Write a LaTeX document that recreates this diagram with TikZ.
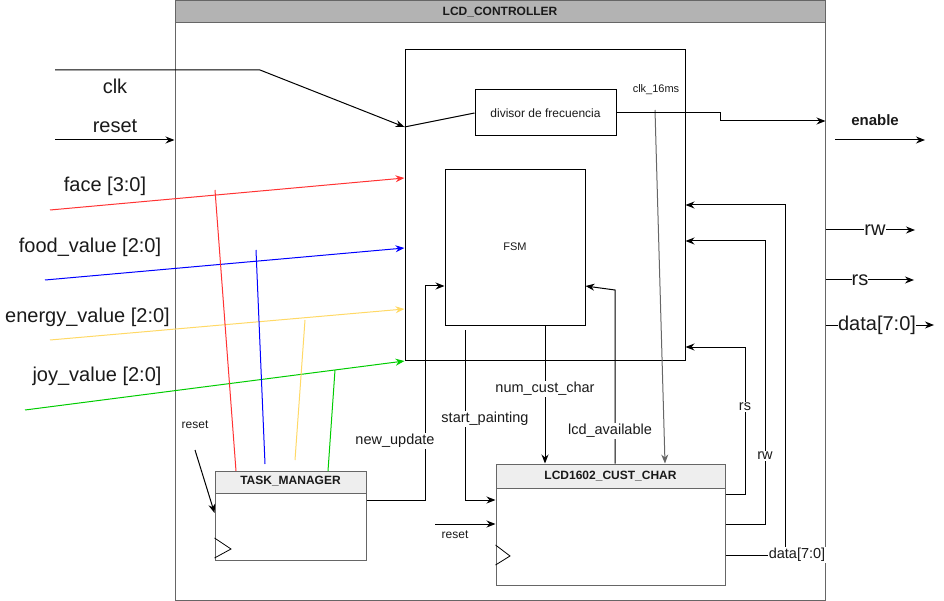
\documentclass[tikz,border=0pt]{standalone}
\usepackage{fontspec}
\setmainfont{Liberation Sans}
\usetikzlibrary{arrows.meta}
\definecolor{bordergray}{HTML}{666666}
\definecolor{hdrdark}{HTML}{B3B3B3}
\definecolor{hdrlight}{HTML}{EEEEEE}
\definecolor{wred}{HTML}{FF3333}
\definecolor{wblue}{HTML}{0000FF}
\definecolor{wyellow}{HTML}{FFD966}
\definecolor{wgreen}{HTML}{00CC00}
\definecolor{txt}{HTML}{1A1A1A}
\begin{document}
\begin{tikzpicture}[x=1pt,y=-1pt,
  box/.style={draw, inner sep=0pt, line width=1pt},
  gbox/.style={draw=bordergray, inner sep=0pt, line width=1pt},
  wire/.style={line width=1pt},
  arr/.style={line width=1pt, -{Stealth[length=9pt,width=7pt]}},
  big/.style={font=\fontsize{20}{24}\selectfont, text=txt, inner sep=1pt},
  mid/.style={font=\fontsize{14.5}{17}\selectfont, text=txt, fill=white, inner sep=1pt},
  small/.style={font=\fontsize{12}{14}\selectfont, text=txt, inner sep=1pt},
  tiny/.style={font=\fontsize{11}{13}\selectfont, text=txt, inner sep=1pt},
  ttl/.style={font=\bfseries\fontsize{12}{14}\selectfont, text=txt, inner sep=0pt},
  clk/.style={line width=0.8pt}
]
\useasboundingbox (0,0) rectangle (944,601);

% ---------- outer controller ----------
\fill[hdrdark] (175,1) rectangle (825,23);
\node[gbox, minimum width=650pt, minimum height=599pt] (ctrl) at (500,300.5) {};
\draw[bordergray, line width=1pt] (175,23) -- (825,23);
\node[ttl] (ctrltitle) at (500,12) {LCD\_CONTROLLER};

% ---------- inner blocks ----------
\node[box, minimum width=280pt, minimum height=310pt] (top) at (545,205) {};
\node[box, minimum width=141pt, minimum height=46pt] (div) at (545.5,113) {};
\node[small] (divtxt) at (545.5,113) {divisor de frecuencia};
\node[box, minimum width=140pt, minimum height=155pt] (fsm) at (515,247.5) {};
\node[tiny] (fsmtxt) at (515,247) {FSM};

% ---------- TASK_MANAGER ----------
\fill[hdrlight] (215,471) rectangle (366,493);
\node[gbox, minimum width=151pt, minimum height=89pt] (tm) at (290.5,515.5) {};
\draw[bordergray, line width=1pt] (215,493) -- (366,493);
\node[ttl] (tmtitle) at (290.5,481) {TASK\_MANAGER};
\draw[wire, line width=0.8pt] (tm.west |- 0,538) -- (231,549) -- (tm.west |- 0,558);

% ---------- LCD1602_CUST_CHAR ----------
\fill[hdrlight] (496,464) rectangle (725,488);
\node[gbox, minimum width=229pt, minimum height=121pt] (lcd) at (610.5,524.5) {};
\draw[bordergray, line width=1pt] (496,488) -- (725,488);
\node[ttl] (lcdtitle) at (610.5,476) {LCD1602\_CUST\_CHAR};
\draw[wire, line width=0.8pt] (lcd.west |- 0,545) -- (510,556) -- (lcd.west |- 0,565);

% ---------- left inputs ----------
\coordinate (clkA) at (55,70);
\coordinate (clkB) at (260,70);
\draw[arr] (clkA) -- (clkB) -- (top.west |- 0,127);
\draw[wire] (top.west |- 0,127) -- (div.west);
\node[big] (clklbl) at (115,86) {clk};

\coordinate (rstA) at (55,140);
\draw[arr] (rstA) -- (ctrl.west |- 0,140);
\node[big] (rstlbl) at (115,126) {reset};

\coordinate (faceA) at (50,210);
\draw[arr, wred] (faceA) -- (top.west |- 0,178);
\node[big] (facelbl) at (105,186) {face [3:0]};

\coordinate (foodA) at (45,280);
\draw[arr, wblue] (foodA) -- (top.west |- 0,248);
\node[big] (foodlbl) at (90,247) {food\_value [2:0]};

\coordinate (enA) at (50,340);
\draw[arr, wyellow] (enA) -- (top.west |- 0,309);
\node[big] (enlbl) at (87.5,317) {energy\_value [2:0]};

\coordinate (joyA) at (25,410);
\draw[arr, wgreen] (joyA) -- (top.west |- 0,361);
\node[big] (joylbl) at (97,376) {joy\_value [2:0]};

% ---------- task manager input stubs ----------
\coordinate (tmr1) at (236,471);
\coordinate (tmr2) at (215,190);
\draw[wire, wred] (tmr1) -- (tmr2);
\coordinate (tmb1) at (265,464);
\coordinate (tmb2) at (256,250);
\draw[wire, wblue] (tmb1) -- (tmb2);
\coordinate (tmy1) at (295,460);
\coordinate (tmy2) at (305,320);
\draw[wire, wyellow] (tmy1) -- (tmy2);
\coordinate (tmg1) at (328,471);
\coordinate (tmg2) at (335,370);
\draw[wire, wgreen] (tmg1) -- (tmg2);

\coordinate (tmrst) at (195,450);
\draw[arr] (tmrst) -- (tm.west |- 0,513);
\node[small] (tmrstlbl) at (195,425) {reset};

% ---------- internal connections ----------
\draw[arr] (tm.east |- 0,500) -- (425,500) -- (425,286) -- (fsm.west |- 0,286);
\node[mid] (nulbl) at (395,441) {new\_update};

\coordinate (spA) at (465,330);
\draw[arr] (spA) -- (465,500) -- (lcd.west |- 0,500);
\node[mid] (splbl) at (485,419) {start\_painting};

\draw[arr] (fsm.south -| 545,0) -- (lcd.north -| 545,0);
\node[mid] (nclbl) at (545,389) {num\_cust\_char};

\draw[arr] (lcd.north -| 615,0) -- (615,290) -- (fsm.east |- 0,286);
\node[mid] (lalbl) at (610,431) {lcd\_available};

\coordinate (c16A) at (655,110);
\draw[arr, bordergray] (c16A) -- (lcd.north -| 665,0);
\node[tiny] (c16lbl) at (656,90) {clk\_16ms};

\coordinate (lcdrst) at (435,524);
\draw[arr] (lcdrst) -- (lcd.west |- 0,524);
\node[small] (lcdrstlbl) at (455,535) {reset};

% ---------- LCD outputs back to top block ----------
\draw[arr] (lcd.east |- 0,494) -- (745,494) -- (745,347) -- (top.east |- 0,347);
\node[mid] (rslbl) at (745,407) {rs};
\draw[arr] (lcd.east |- 0,524) -- (765,524) -- (765,241) -- (top.east |- 0,241);
\node[mid] (rwlbl) at (765,456) {rw};
\draw[arr] (lcd.east |- 0,555) -- (785,555) -- (785,205) -- (top.east |- 0,205);
\node[mid] (dlbl) at (797,555) {data[7:0]};

% ---------- outputs ----------
\draw[arr] (div.east) -- (720,113) -- (720,121) -- (ctrl.east |- 0,121);
\node[font=\bfseries\fontsize{15}{18}\selectfont, text=txt] (enlbl2) at (875,120) {enable};
\coordinate (enoA) at (835,140);
\coordinate (enoB) at (925,140);
\draw[arr] (enoA) -- (enoB);

\coordinate (rwo) at (915,230);
\draw[arr] (ctrl.east |- 0,230) -- (rwo);
\node[big, fill=white, inner sep=0pt] (rwolbl) at (875,230) {rw};
\coordinate (rso) at (914,280);
\draw[arr] (ctrl.east |- 0,280) -- (rso);
\node[big, fill=white, inner sep=0pt] (rsolbl) at (860,280) {rs};
\coordinate (dout) at (934,325);
\draw[arr] (ctrl.east |- 0,325) -- (dout);
\node[big, fill=white, inner sep=0pt] (dolbl) at (877,325) {data[7:0]};
\end{tikzpicture}
\end{document}
